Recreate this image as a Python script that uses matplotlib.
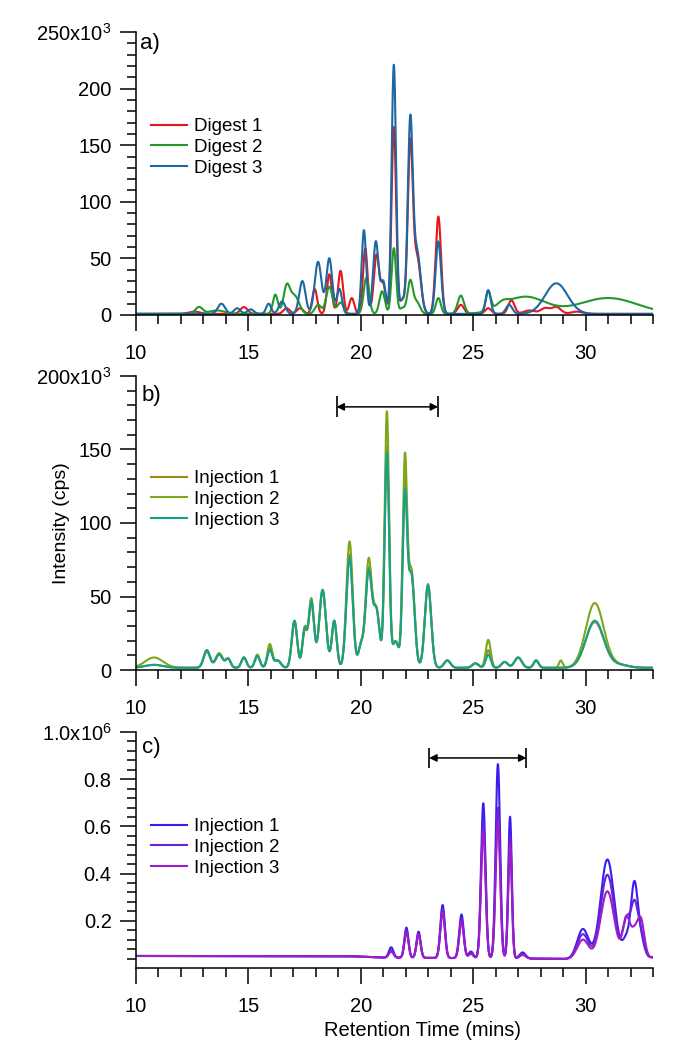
import numpy as np
import matplotlib.pyplot as plt

plt.rcParams['font.family'] = ['Liberation Sans', 'DejaVu Sans']
plt.rcParams['mathtext.fontset'] = 'custom'
plt.rcParams['mathtext.rm'] = 'Liberation Sans'
plt.rcParams['mathtext.it'] = 'Liberation Sans:italic'

# ---- panel a: three digests, peak table (apex time in min, apex height in 10^3 cps, width in min)
a_d1_times = [12.6, 14.8, 16.7, 17.3, 17.95, 18.6, 19.1, 19.6, 20.2, 20.7, 21.0, 21.47, 21.85, 22.2,
              22.5, 23.45, 24.45, 25.67, 26.7, 27.5, 28.2, 28.7, 29.6]
a_d1_heights = [2, 6, 5, 5, 22, 35, 38, 14, 58, 52, 25, 165, 12, 146, 50, 86, 8, 5, 12, 3, 5, 6, 2]
a_d1_widths = [0.25, 0.16, 0.14, 0.14, 0.11, 0.11, 0.11, 0.11, 0.1, 0.12, 0.11, 0.1, 0.12, 0.11,
               0.16, 0.12, 0.14, 0.14, 0.14, 0.25, 0.2, 0.2, 0.25]

a_d2_times = [12.8, 13.6, 16.2, 16.7, 17.05, 18.1, 18.6, 19.1, 20.25, 20.95, 21.47, 21.85, 22.2,
              22.5, 23.45, 24.45, 25.67, 26.3, 27.3, 31.0]
a_d2_heights = [6, 3, 17, 23, 16, 8, 24, 10, 32, 20, 58, 5, 29, 10, 14, 16, 17, 4, 15, 14]
a_d2_widths = [0.16, 0.35, 0.11, 0.14, 0.2, 0.14, 0.14, 0.14, 0.12, 0.12, 0.1, 0.12, 0.12, 0.14,
               0.11, 0.14, 0.11, 0.25, 0.9, 1.3]

a_d3_times = [13.8, 14.5, 15.1, 15.9, 16.5, 17.4, 18.1, 18.6, 19.05, 20.14, 20.67, 21.0, 21.47,
              21.85, 22.2, 22.5, 23.45, 25.67, 26.6, 28.7]
a_d3_heights = [9, 5, 4, 9, 11, 29, 46, 49, 22, 74, 64, 28, 220, 12, 166, 55, 64, 21, 8, 27]
a_d3_widths = [0.16, 0.14, 0.14, 0.11, 0.14, 0.14, 0.15, 0.13, 0.11, 0.1, 0.12, 0.11, 0.1, 0.12,
               0.11, 0.16, 0.12, 0.11, 0.14, 0.5]

# ---- panel b: three injections, shared peak times / widths, heights in 10^3 cps
b_times = [10.8, 13.15, 13.7, 14.1, 14.8, 15.4, 15.95, 16.3, 17.05, 17.5, 17.8, 18.3, 18.82, 19.5,
           20.0, 20.35, 20.7, 21.16, 21.55, 21.96, 22.25, 22.99, 23.85, 25.1, 25.67, 26.4, 27.0,
           27.8, 28.9, 30.41, 31.5]
b_widths = [0.4, 0.14, 0.16, 0.11, 0.11, 0.11, 0.11, 0.14, 0.12, 0.1, 0.12, 0.15, 0.11, 0.14,
            0.11, 0.14, 0.14, 0.1, 0.14, 0.1, 0.14, 0.14, 0.14, 0.14, 0.11, 0.14, 0.16, 0.11, 0.08,
            0.4, 0.4]
b_inj1 = [2, 11, 9, 6, 7, 8, 14, 5, 31, 24, 44, 52, 31, 77, 14, 67, 38, 150, 18, 122, 63, 56, 5, 3,
          12, 4, 7, 5, 0, 31, 2]
b_inj2 = [7, 12, 10, 6, 7, 9, 16, 5, 32, 26, 47, 53, 32, 86, 14, 73, 38, 174, 18, 138, 66, 57, 5, 3,
          19, 4, 7, 5, 5, 44, 2]
b_inj3 = [2, 12, 9, 6, 7, 8, 12, 5, 32, 25, 45, 53, 32, 75, 14, 65, 38, 146, 18, 114, 63, 56, 5, 3,
          9, 4, 7, 5, 0, 32, 2]

# ---- panel c: three injections, apex values in 10^6 cps
c_times = [21.35, 22.03, 22.57, 23.64, 24.48, 24.9, 25.45, 26.1, 26.64, 27.2, 29.88, 30.97, 31.82,
           32.17, 32.46]
c_widths = [0.1, 0.09, 0.09, 0.1, 0.1, 0.1, 0.1, 0.1, 0.08, 0.13, 0.25, 0.3, 0.16, 0.15, 0.15]
c_inj1 = [0.088, 0.171, 0.154, 0.267, 0.227, 0.07, 0.698, 0.864, 0.641, 0.066, 0.165, 0.46, 0.12,
          0.35, 0.12]
c_inj2 = [0.075, 0.16, 0.145, 0.25, 0.205, 0.065, 0.62, 0.68, 0.56, 0.06, 0.143, 0.395, 0.2, 0.26,
          0.14]
c_inj3 = [0.07, 0.15, 0.14, 0.235, 0.195, 0.06, 0.58, 0.62, 0.52, 0.055, 0.12, 0.325, 0.21, 0.14,
          0.2]
c_base_t = [10, 19.5, 21.0, 27.5, 29.3, 33]
c_base_v = [0.051, 0.050, 0.044, 0.040, 0.038, 0.045]

# bracket marks (min) and their heights
b_span = [18.92, 23.44]
b_span_y = 179e3
c_span = [23.04, 27.37]
c_span_y = 0.89e6

t = np.linspace(10, 33, 4601)


def chrom(times, heights, widths, base):
    y = np.zeros_like(t) + base
    for c, h, w in zip(times, heights, widths):
        y += h * np.exp(-0.5 * ((t - c) / w) ** 2)
    return y


W, H = 684, 1050
fig = plt.figure(figsize=(W / 100, H / 100), dpi=100)
x0, x1 = 136, 653


def make_ax(top, bottom):
    ax = fig.add_axes([x0 / W, 1 - bottom / H, (x1 - x0) / W, (bottom - top) / H])
    for s in ['top', 'right']:
        ax.spines[s].set_visible(False)
    for s in ['left', 'bottom']:
        ax.spines[s].set_linewidth(1.1)
    ax.set_xlim(10, 33)
    ax.set_xticks([10, 15, 20, 25, 30])
    ax.set_xticks(np.arange(10, 34, 1), minor=True)
    ax.tick_params(which='major', direction='out', length=11.5, width=1.1, labelsize=14.5)
    ax.tick_params(which='minor', direction='out', length=6.5, width=1.1)
    ax.tick_params(axis='x', pad=9.5)
    ax.tick_params(axis='y', pad=6)
    return ax


ax_a = make_ax(32, 315)
ax_b = make_ax(376, 670)
ax_c = make_ax(732, 968)

lw = 1.5

# panel a
base_a = 1.0
for times, hts, wds, col, lab in [
        (a_d1_times, a_d1_heights, a_d1_widths, '#e5171c', 'Digest 1'),
        (a_d2_times, a_d2_heights, a_d2_widths, '#22992a', 'Digest 2'),
        (a_d3_times, a_d3_heights, a_d3_widths, '#1c68a3', 'Digest 3')]:
    ax_a.plot(t, chrom(times, hts, wds, base_a) * 1e3, color=col, lw=lw, label=lab)
ax_a.set_ylim(0, 250e3)
ax_a.set_yticks(np.arange(0, 251e3, 50e3))
ax_a.set_yticklabels(['0', '50', '100', '150', '200', r'250x10$^{3}$'])
ax_a.set_yticks(np.arange(0, 251e3, 10e3), minor=True)

# panel b
for hts, col, lab in [(b_inj1, '#a18a12', 'Injection 1'),
                      (b_inj2, '#7ca61c', 'Injection 2'),
                      (b_inj3, '#17a08a', 'Injection 3')]:
    ax_b.plot(t, chrom(b_times, hts, b_widths, 1.5) * 1e3, color=col, lw=lw, label=lab)
ax_b.set_ylim(0, 200e3)
ax_b.set_yticks(np.arange(0, 201e3, 50e3))
ax_b.set_yticklabels(['0', '50', '100', '150', r'200x10$^{3}$'])
ax_b.set_yticks(np.arange(0, 201e3, 10e3), minor=True)

# panel c
base_c = np.interp(t, c_base_t, c_base_v)
base_at_peaks = np.interp(c_times, c_base_t, c_base_v)
for hts, col, lab in [(c_inj1, '#3a1ef0', 'Injection 1'),
                      (c_inj2, '#6a22d8', 'Injection 2'),
                      (c_inj3, '#9b1ec8', 'Injection 3')]:
    amp = np.array(hts) - base_at_peaks
    ax_c.plot(t, chrom(c_times, amp, c_widths, base_c) * 1e6, color=col, lw=lw, label=lab)
ax_c.set_ylim(0, 1.0e6)
ax_c.set_yticks(np.arange(0.2e6, 1.01e6, 0.2e6))
ax_c.set_yticklabels(['0.2', '0.4', '0.6', '0.8', r'1.0x10$^{6}$'])
ax_c.set_yticks(np.arange(0.04e6, 1.01e6, 0.04e6), minor=True)

# brackets
for ax, span, yv, bar in [(ax_b, b_span, b_span_y, 7.2e3), (ax_c, c_span, c_span_y, 0.043e6)]:
    ax.annotate('', xy=(span[1], yv), xytext=(span[0], yv),
                arrowprops=dict(arrowstyle='<|-|>', color='black', lw=1.1,
                                mutation_scale=11, shrinkA=0, shrinkB=0))
    ax.vlines(span, yv - bar, yv + bar, color='black', lw=1.2)

# legends
for ax, top in [(ax_a, 118), (ax_b, 470), (ax_c, 818)]:
    ax.legend(loc='upper left', bbox_to_anchor=(151 / W, 1 - top / H),
              bbox_transform=fig.transFigure, frameon=False, fontsize=13.5,
              handlelength=1.9, handletextpad=0.4, labelspacing=0.2,
              borderpad=0, borderaxespad=0)

# panel letters and axis titles
for lab, px, py in [('a)', 140, 43), ('b)', 142, 395), ('c)', 142, 748)]:
    fig.text(px / W, 1 - py / H, lab, fontsize=16, ha='left', va='center')
fig.text(62 / W, 1 - 523 / H, 'Intensity (cps)', fontsize=14, rotation=90,
         ha='center', va='center')
fig.text(423 / W, 1 - 1030 / H, 'Retention Time (mins)', fontsize=14.5,
         ha='center', va='center')

fig.savefig('out.png', dpi=100)
